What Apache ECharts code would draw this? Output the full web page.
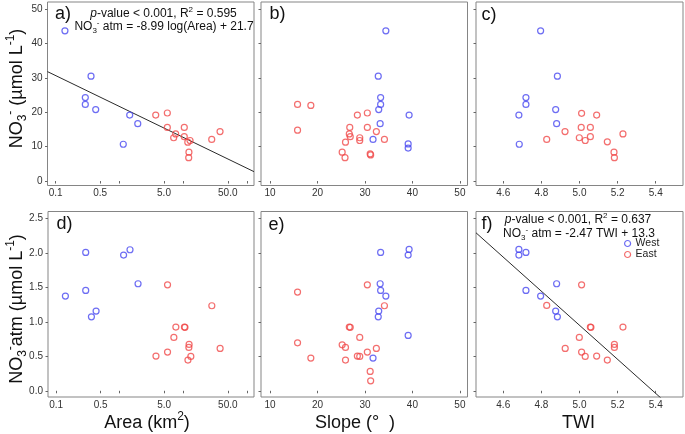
<!DOCTYPE html>
<html><head><meta charset="utf-8">
<script src="https://cdn.jsdelivr.net/npm/echarts@6/dist/echarts.min.js"></script>
<style>html,body{margin:0;padding:0;background:#fff}#c{width:685px;height:434px}</style>
</head><body><div id="c"></div>
<script>
// ---------- tick values ----------
const areaTicks = [0.1, 0.5, 1, 5, 10, 50, 100];
const areaLabels = [0.1, 0.5, 5, 50];
const slopeTicks = [10, 20, 30, 40, 50];
const twiTicks = [4.6, 4.8, 5.0, 5.2, 5.4];
const no3Ticks = [0, 10, 20, 30, 40, 50];
const atmTicks = [0, 0.5, 1.0, 1.5, 2.0, 2.5];

// ---------- data: [x, y] ----------
// a) Area vs NO3-
const aWest = [[0.140,43.7],[0.359,30.5],[0.292,24.3],[0.292,22.3],[0.425,20.8],[1.45,19.2],[1.94,16.7],[1.15,10.7]];
const aEast = [[3.71,19.2],[5.64,19.8],[5.64,15.6],[10.4,15.6],[7.62,13.7],[7.09,12.6],[10.4,12.9],[11.8,11.3],[12.8,11.8],[28.0,12.1],[37.8,14.4],[12.3,8.4],[12.2,6.8]];
// b) Slope vs NO3-
const bWest = [[34.4,43.7],[32.8,30.5],[33.3,24.3],[33.3,22.3],[32.9,20.8],[39.3,19.2],[33.2,16.7],[31.7,12.1],[39.1,10.8],[39.1,9.6]];
const bEast = [[15.8,22.3],[18.6,22.0],[15.8,14.8],[28.4,19.2],[30.5,19.8],[26.8,15.6],[30.5,15.6],[26.7,13.7],[26.9,12.9],[32.4,14.4],[28.9,12.6],[28.9,11.8],[25.9,11.3],[34.1,12.1],[25.2,8.4],[25.8,6.8],[31.1,7.9],[31.2,7.6]];
// c) TWI vs NO3-
const cWest = [[4.796,43.7],[4.884,30.5],[4.719,24.3],[4.719,22.3],[4.875,20.8],[4.682,19.2],[4.880,16.7],[4.684,10.7]];
const cEast = [[5.011,19.7],[5.090,19.2],[4.924,14.4],[4.828,12.1],[5.009,15.6],[5.057,15.6],[4.999,12.6],[5.030,11.8],[5.057,12.9],[5.146,11.4],[5.228,13.7],[5.181,8.4],[5.183,6.8]];
// d) Area vs NO3-atm
const dWest = [[0.140,1.373],[0.292,2.007],[0.292,1.456],[0.359,1.073],[0.425,1.156],[1.15,1.968],[1.45,2.045],[1.94,1.552]];
const dEast = [[5.64,1.537],[28.0,1.233],[7.62,0.924],[10.4,0.924],[10.6,0.920],[7.09,0.774],[12.3,0.672],[12.2,0.629],[5.64,0.561],[3.71,0.503],[13.1,0.499],[11.8,0.445],[37.8,0.614]];
// e) Slope vs NO3-atm
const eWest = [[33.3,2.007],[39.3,2.050],[39.1,1.968],[33.2,1.552],[33.3,1.456],[34.4,1.373],[32.9,1.156],[32.8,1.073],[39.1,0.803],[31.7,0.474]];
const eEast = [[15.8,1.431],[30.5,1.537],[34.1,1.233],[26.7,0.924],[26.9,0.920],[28.9,0.774],[15.8,0.696],[25.2,0.667],[25.9,0.629],[32.4,0.614],[30.5,0.561],[28.4,0.503],[28.9,0.499],[18.6,0.474],[25.9,0.445],[31.1,0.281],[31.2,0.145]];
// f) TWI vs NO3-atm
const fWest = [[4.682,2.050],[4.682,1.968],[4.719,2.007],[4.880,1.552],[4.719,1.456],[4.796,1.373],[4.875,1.156],[4.884,1.073]];
const fEast = [[5.011,1.537],[4.828,1.238],[5.057,0.924],[5.060,0.920],[5.228,0.924],[4.999,0.774],[4.925,0.614],[5.183,0.672],[5.183,0.629],[5.011,0.561],[5.030,0.499],[5.090,0.503],[5.146,0.445]];

// regression fits (from the printed equations)
const fitA = { slope: -8.99, intercept: 21.7 };  // vs log10(Area)
const fitF = { slope: -2.47, intercept: 13.3 };  // vs TWI

// ---------- ranges ----------
const AREA_MIN = 0.0746, AREA_MAX = 128.8;
const SLOPE_MIN = 8.1, SLOPE_MAX = 51.6;
const TWI_MIN = 4.457, TWI_MAX = 5.543;
const NO3_MIN = -1.3, NO3_MAX = 52.1;
const ATM_MIN = -0.09, ATM_MAX = 2.6;

const FONT = '"Liberation Sans", Arial, Helvetica, sans-serif';
const BLUE = '#4848f0', RED = '#f04a4a';

const lineA = [AREA_MIN, AREA_MAX].map(x => [x, fitA.slope * Math.log10(x) + fitA.intercept]);
const lineF = [TWI_MIN, TWI_MAX].map(x => [x, fitF.slope * x + fitF.intercept]);

const grids = [
  {left: 47.5, top: 2, width: 206.5, height: 183.5},
  {left: 261, top: 2, width: 206.5, height: 183.5},
  {left: 476, top: 2, width: 207, height: 183.5},
  {left: 48, top: 211.5, width: 206, height: 185.5},
  {left: 261, top: 211.5, width: 206.5, height: 185.5},
  {left: 476, top: 211.5, width: 207, height: 185.5}
].map(g => Object.assign({show: true, borderColor: '#858585', borderWidth: 1, backgroundColor: 'transparent'}, g));

const tickStyle = {show: true, inside: false, length: 2.5, lineStyle: {color: '#666', width: 1}};
const lblStyle = {fontSize: 10, color: '#333', fontFamily: FONT};

function xAxisFor(i, kind) {
  const base = {gridIndex: i, splitLine: {show: false}, axisLine: {show: false}};
  if (kind === 'area') {
    return Object.assign(base, {type: 'log', logBase: 10, min: AREA_MIN, max: AREA_MAX,
      axisTick: Object.assign({customValues: areaTicks}, tickStyle),
      axisLabel: Object.assign({customValues: areaLabels, margin: 3, formatter: v => Number(v).toFixed(1)}, lblStyle)});
  }
  const ticks = kind === 'slope' ? slopeTicks : twiTicks;
  return Object.assign(base, {type: 'value',
    min: kind === 'slope' ? SLOPE_MIN : TWI_MIN, max: kind === 'slope' ? SLOPE_MAX : TWI_MAX,
    axisTick: Object.assign({customValues: ticks}, tickStyle),
    axisLabel: Object.assign({customValues: ticks, margin: 3,
      formatter: v => kind === 'slope' ? String(Math.round(v)) : Number(v).toFixed(1)}, lblStyle)});
}
function yAxisFor(i, top, showLabels) {
  const ticks = top ? no3Ticks : atmTicks;
  return {gridIndex: i, type: 'value', min: top ? NO3_MIN : ATM_MIN, max: top ? NO3_MAX : ATM_MAX,
    splitLine: {show: false}, axisLine: {show: false},
    axisTick: Object.assign({customValues: ticks}, tickStyle),
    axisLabel: Object.assign({show: showLabels, customValues: ticks, margin: 5,
      formatter: v => top ? String(Math.round(v)) : Number(v).toFixed(1)}, lblStyle)};
}

function pts(i, name, data, color) {
  return {type: 'scatter', name, xAxisIndex: i, yAxisIndex: i, data, symbol: 'circle', symbolSize: 6,
    itemStyle: {color: 'rgba(0,0,0,0)', borderColor: color, borderWidth: 1.2}, silent: true, z: 3,
    emphasis: {disabled: true}};
}
function fit(i, data) {
  return {type: 'line', xAxisIndex: i, yAxisIndex: i, data, symbol: 'none', clip: true, silent: true,
    lineStyle: {color: '#2a2a2a', width: 1}, z: 2};
}

const panels = [['a', aWest, aEast], ['b', bWest, bEast], ['c', cWest, cEast],
                ['d', dWest, dEast], ['e', eWest, eEast], ['f', fWest, fEast]];
const series = [];
panels.forEach((p, i) => { series.push(pts(i, 'West', p[1], BLUE)); series.push(pts(i, 'East', p[2], RED)); });
series.push(fit(0, lineA));
series.push(fit(5, lineF));

const rich = {
  it: {fontStyle: 'italic', fontSize: 12, fontFamily: FONT, lineHeight: 16},
  sup: {fontSize: 8, fontFamily: FONT, verticalAlign: 'top', lineHeight: 9},
  sub: {fontSize: 8, fontFamily: FONT, verticalAlign: 'bottom', lineHeight: 9},
  n: {fontSize: 12, fontFamily: FONT, lineHeight: 16}
};
const richBig = {
  n: {fontSize: 18, fontFamily: FONT, lineHeight: 24},
  sup: {fontSize: 12, fontFamily: FONT, verticalAlign: 'top', lineHeight: 13},
  sub: {fontSize: 12, fontFamily: FONT, verticalAlign: 'bottom', lineHeight: 13}
};

function txt(x, y, text, size, align, extra) {
  return Object.assign({type: 'text', x, y, silent: true, style: {text, fontSize: size, fontFamily: FONT, fill: '#111',
    textAlign: align || 'left', textVerticalAlign: 'middle'}}, extra || {});
}
function rtxt(x, y, text, r, extra) {
  return Object.assign({type: 'text', x, y, silent: true, style: {text, rich: r, fill: '#111', fontFamily: FONT,
    textAlign: 'center', textVerticalAlign: 'middle'}}, extra || {});
}

const graphics = [
  txt(55, 14, 'a)', 18), txt(269.5, 14.5, 'b)', 18), txt(481.5, 15.5, 'c)', 18),
  txt(56.5, 224.5, 'd)', 18), txt(268.5, 225, 'e)', 18), txt(481.5, 224.5, 'f)', 18),
  rtxt(163.5, 13.5, '{it|p}{n|-value < 0.001, R}{sup|2}{n| = 0.595}', rich),
  rtxt(164, 27, '{n|NO}{sub|3}{sup|-}{n| atm = -8.99 log(Area) + 21.7}', rich),
  rtxt(578, 220, '{it|p}{n|-value < 0.001, R}{sup|2}{n| = 0.637}', rich),
  rtxt(579, 233.5, '{n|NO}{sub|3}{sup|-}{n| atm = -2.47 TWI + 13.3}', rich),
  rtxt(147, 423, '{n|Area (km}{sup|2}{n|)}', richBig),
  rtxt(355, 423, '{n|Slope (°  )}', richBig),
  rtxt(578.5, 423, '{n|TWI}', richBig),
  rtxt(17, 88.5, '{n|NO}{sub|3}{sup|-}{n| (µmol L}{sup|-1}{n|)}', richBig, {rotation: Math.PI / 2}),
  rtxt(17, 309, '{n|NO}{sub|3}{sup|-}{n|atm (µmol L}{sup|-1}{n|)}', richBig, {rotation: Math.PI / 2})
];

const chart = echarts.init(document.getElementById('c'), null, {renderer: 'canvas'});
chart.setOption({
  animation: false,
  backgroundColor: '#fff',
  grid: grids,
  xAxis: [xAxisFor(0, 'area'), xAxisFor(1, 'slope'), xAxisFor(2, 'twi'),
          xAxisFor(3, 'area'), xAxisFor(4, 'slope'), xAxisFor(5, 'twi')],
  yAxis: [yAxisFor(0, true, true), yAxisFor(1, true, false), yAxisFor(2, true, false),
          yAxisFor(3, false, true), yAxisFor(4, false, false), yAxisFor(5, false, false)],
  legend: {orient: 'vertical', left: 624, top: 238, itemWidth: 6, itemHeight: 6, itemGap: 0, padding: 0,
    selectedMode: false,
    textStyle: {fontSize: 10.5, fontFamily: FONT, color: '#222'},
    data: [
      {name: 'West', icon: 'circle', itemStyle: {color: 'rgba(0,0,0,0)', borderColor: BLUE, borderWidth: 1.2}},
      {name: 'East', icon: 'circle', itemStyle: {color: 'rgba(0,0,0,0)', borderColor: RED, borderWidth: 1.2}}
    ]},
  series,
  graphic: graphics
});
</script></body></html>
